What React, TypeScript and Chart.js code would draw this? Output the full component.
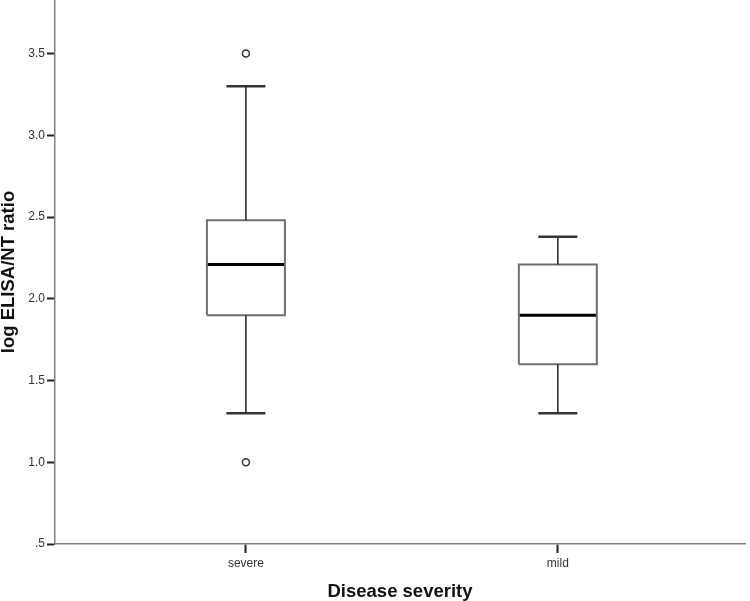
import React, { useEffect, useRef } from "react";
import { Chart, registerables } from "chart.js";

Chart.register(...registerables);

// ---- data ----
const categories = ["severe", "mild"];
const whiskerLow = [1.3, 1.3];
const q1 = [1.9, 1.6];
const median = [2.21, 1.9];
const q3 = [2.48, 2.21];
const whiskerHigh = [3.3, 2.38];
const outliers: number[][] = [[3.5, 1.0], []];
const yTicks = [0.5, 1.0, 1.5, 2.0, 2.5, 3.0, 3.5];

// ---- geometry constants (in x-axis units) ----
const BOX_HALF = 0.125;
const CAP_HALF = 0.0625;

const segment = (pts: { x: number; y: number }[], color: string, width: number) => ({
  data: pts,
  showLine: true,
  borderColor: color,
  borderWidth: width,
  pointRadius: 0,
  pointHoverRadius: 0,
  fill: false,
  tension: 0,
});

function buildDatasets() {
  const ds: any[] = [];
  categories.forEach((_, i) => {
    const x = i + 1;
    // whiskers
    ds.push(segment([{ x, y: q3[i] }, { x, y: whiskerHigh[i] }], "#222", 1.5));
    ds.push(segment([{ x, y: q1[i] }, { x, y: whiskerLow[i] }], "#222", 1.5));
    // caps
    ds.push(segment([{ x: x - CAP_HALF, y: whiskerHigh[i] }, { x: x + CAP_HALF, y: whiskerHigh[i] }], "#333", 2.5));
    ds.push(segment([{ x: x - CAP_HALF, y: whiskerLow[i] }, { x: x + CAP_HALF, y: whiskerLow[i] }], "#333", 2.5));
    // box
    ds.push(
      segment(
        [
          { x: x - BOX_HALF, y: q1[i] },
          { x: x + BOX_HALF, y: q1[i] },
          { x: x + BOX_HALF, y: q3[i] },
          { x: x - BOX_HALF, y: q3[i] },
          { x: x - BOX_HALF, y: q1[i] },
        ],
        "#6f6f6f",
        2
      )
    );
    // median
    ds.push(segment([{ x: x - BOX_HALF, y: median[i] }, { x: x + BOX_HALF, y: median[i] }], "#000", 3));
    // outliers
    if (outliers[i].length) {
      ds.push({
        data: outliers[i].map((v) => ({ x, y: v })),
        showLine: false,
        pointRadius: 3.5,
        pointStyle: "circle",
        borderColor: "#333",
        backgroundColor: "#fff",
        borderWidth: 1.5,
      });
    }
  });
  return ds;
}

export default function App() {
  const ref = useRef<HTMLCanvasElement | null>(null);

  useEffect(() => {
    if (!ref.current) return;
    const tickFont = { family: "'Liberation Sans', Arial, sans-serif", size: 12 };
    const titleFont = { family: "'Liberation Sans', Arial, sans-serif", size: 18.5, weight: "bold" as const, lineHeight: 1.0 };
    const chart = new Chart(ref.current, {
      type: "scatter",
      data: { datasets: buildDatasets() },
      options: {
        responsive: false,
        animation: false,
        layout: { autoPadding: false, padding: { left: 0, right: 5, top: 0, bottom: 0 } },
        plugins: { legend: { display: false }, tooltip: { enabled: false } },
        scales: {
          x: {
            type: "linear",
            min: 0.388,
            max: 2.6,
            afterBuildTicks: (s: any) => {
              s.ticks = categories.map((_, i) => ({ value: i + 1 }));
            },
            afterFit: (s: any) => {
              s.height = 57;
              s.paddingLeft = 0;
              s.paddingRight = 0;
            },
            ticks: {
              callback: (v: any) => categories[Math.round(v) - 1] ?? "",
              font: tickFont,
              color: "#333",
              padding: 3,
              maxRotation: 0,
              autoSkip: false,
            },
            grid: { drawOnChartArea: false, drawTicks: true, tickLength: 9, tickColor: "#222", tickWidth: 2 },
            border: { color: "#808080", width: 1.5 },
            title: {
              display: true,
              text: "Disease severity",
              font: titleFont,
              color: "#111",
              padding: { top: 0, bottom: 0 },
            },
          },
          y: {
            type: "linear",
            min: 0.5,
            max: 3.828,
            afterBuildTicks: (s: any) => {
              s.ticks = yTicks.map((v) => ({ value: v }));
            },
            afterFit: (s: any) => {
              s.width = 55;
              s.paddingTop = 0;
              s.paddingBottom = 0;
            },
            ticks: {
              callback: (v: any) => (v < 1 ? "." + String(Math.round(v * 10)) : Number(v).toFixed(1)),
              font: tickFont,
              color: "#333",
              padding: 2,
              autoSkip: false,
            },
            grid: { drawOnChartArea: false, drawTicks: true, tickLength: 8, tickColor: "#222", tickWidth: 2 },
            border: { color: "#808080", width: 1.5 },
            title: {
              display: true,
              text: "log ELISA/NT ratio",
              font: titleFont,
              color: "#111",
              padding: { top: 0, bottom: 0 },
            },
          },
        },
      } as any,
    });
    return () => chart.destroy();
  }, []);

  return (
    <div style={{ position: "absolute", left: 0, top: 0, width: 750, height: 601, background: "#fff" }}>
      <canvas ref={ref} width={750} height={601} style={{ display: "block" }} />
    </div>
  );
}
